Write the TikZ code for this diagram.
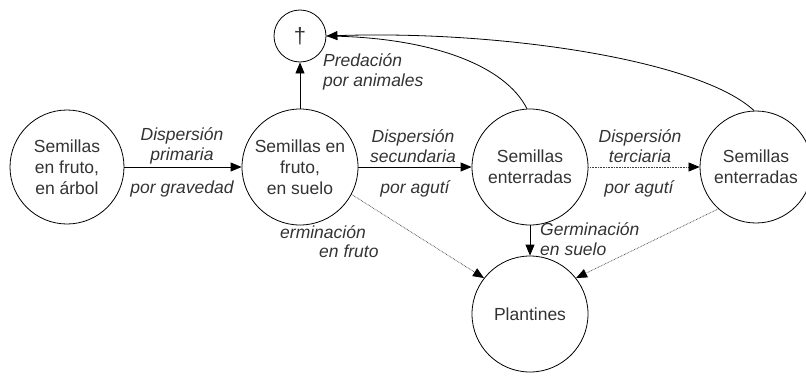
\documentclass[tikz,border=0pt]{standalone}
\usepackage{fontspec}
\setmainfont{Liberation Sans}
\usetikzlibrary{arrows.meta}
\definecolor{txt}{HTML}{333333}
\begin{document}
\begin{tikzpicture}[x=1pt,y=-1pt,
  state/.style={circle,draw,line width=0.8pt,inner sep=0pt,align=center,text=txt,
    font=\fontsize{17.5}{21}\selectfont},
  lbl/.style={inner sep=0pt,align=center,text=txt,font=\fontsize{17.5}{20.5}\selectfont\itshape},
  solidarr/.style={line width=0.8pt,-{Triangle[length=11pt,width=9pt]}},
  dotarr/.style={line width=0.7pt,black!75,dash pattern=on 0.7pt off 0.9pt,-{Triangle[length=11pt,width=9pt,fill=black,color=black]}}]
\useasboundingbox (0,0) rectangle (806,375);
\node[state,minimum size=114pt] (A) at (67,167) {Semillas\\en fruto,\\en árbol};
\node[state,minimum size=116pt] (B) at (300,167) {Semillas en\\fruto,\\en suelo};
\node[state,minimum size=52pt,font=\fontsize{22}{24}\selectfont] (X) at (300,36) {†};
\node[state,minimum size=116pt] (C) at (530,167) {Semillas\\enterradas};
\node[state,minimum size=112pt] (D) at (756,167) {Semillas\\enterradas};
\node[state,minimum size=116pt] (P) at (530,314) {Plantines};
% connectors
\draw[solidarr] (A) -- (B);
\draw[solidarr] (B) -- (X);
\draw[solidarr] (B) -- (C);
\draw[dotarr] (C) -- (D);
\draw[solidarr] (C) -- (P);
\draw[dotarr] (B.-28) -- (P.142);
\draw[dotarr] (D.-132) -- (P.38);
\draw[line width=0.8pt] (C.93) .. controls (505,65) and (430,37) .. (X.east);
\draw[line width=0.8pt,-{Triangle[length=11pt,width=9pt]}] (D.92) .. controls (700,60) and (500,30) .. (X.east);
% labels
\node[lbl] (l1) at (182,146) {Dispersión\\primaria};
\node[lbl] (l2) at (182,189) {por gravedad};
\node[lbl] (l3) at (413,146) {Dispersión\\secundaria};
\node[lbl] (l4) at (415,189) {por agutí};
\node[lbl] (l5) at (640,146) {Dispersión\\terciaria};
\node[lbl] (l6) at (639,189) {por agutí};
\node[lbl,align=left,anchor=west] (l7) at (323,72) {Predación\\por animales};
\node[lbl,anchor=west] (l8) at (280,232) {erminación};
\node[lbl,anchor=west] (l9) at (319,251) {en fruto};
\node[lbl,align=left,anchor=west] (l10) at (540,239) {Germinación\\en suelo};
\end{tikzpicture}
\end{document}
